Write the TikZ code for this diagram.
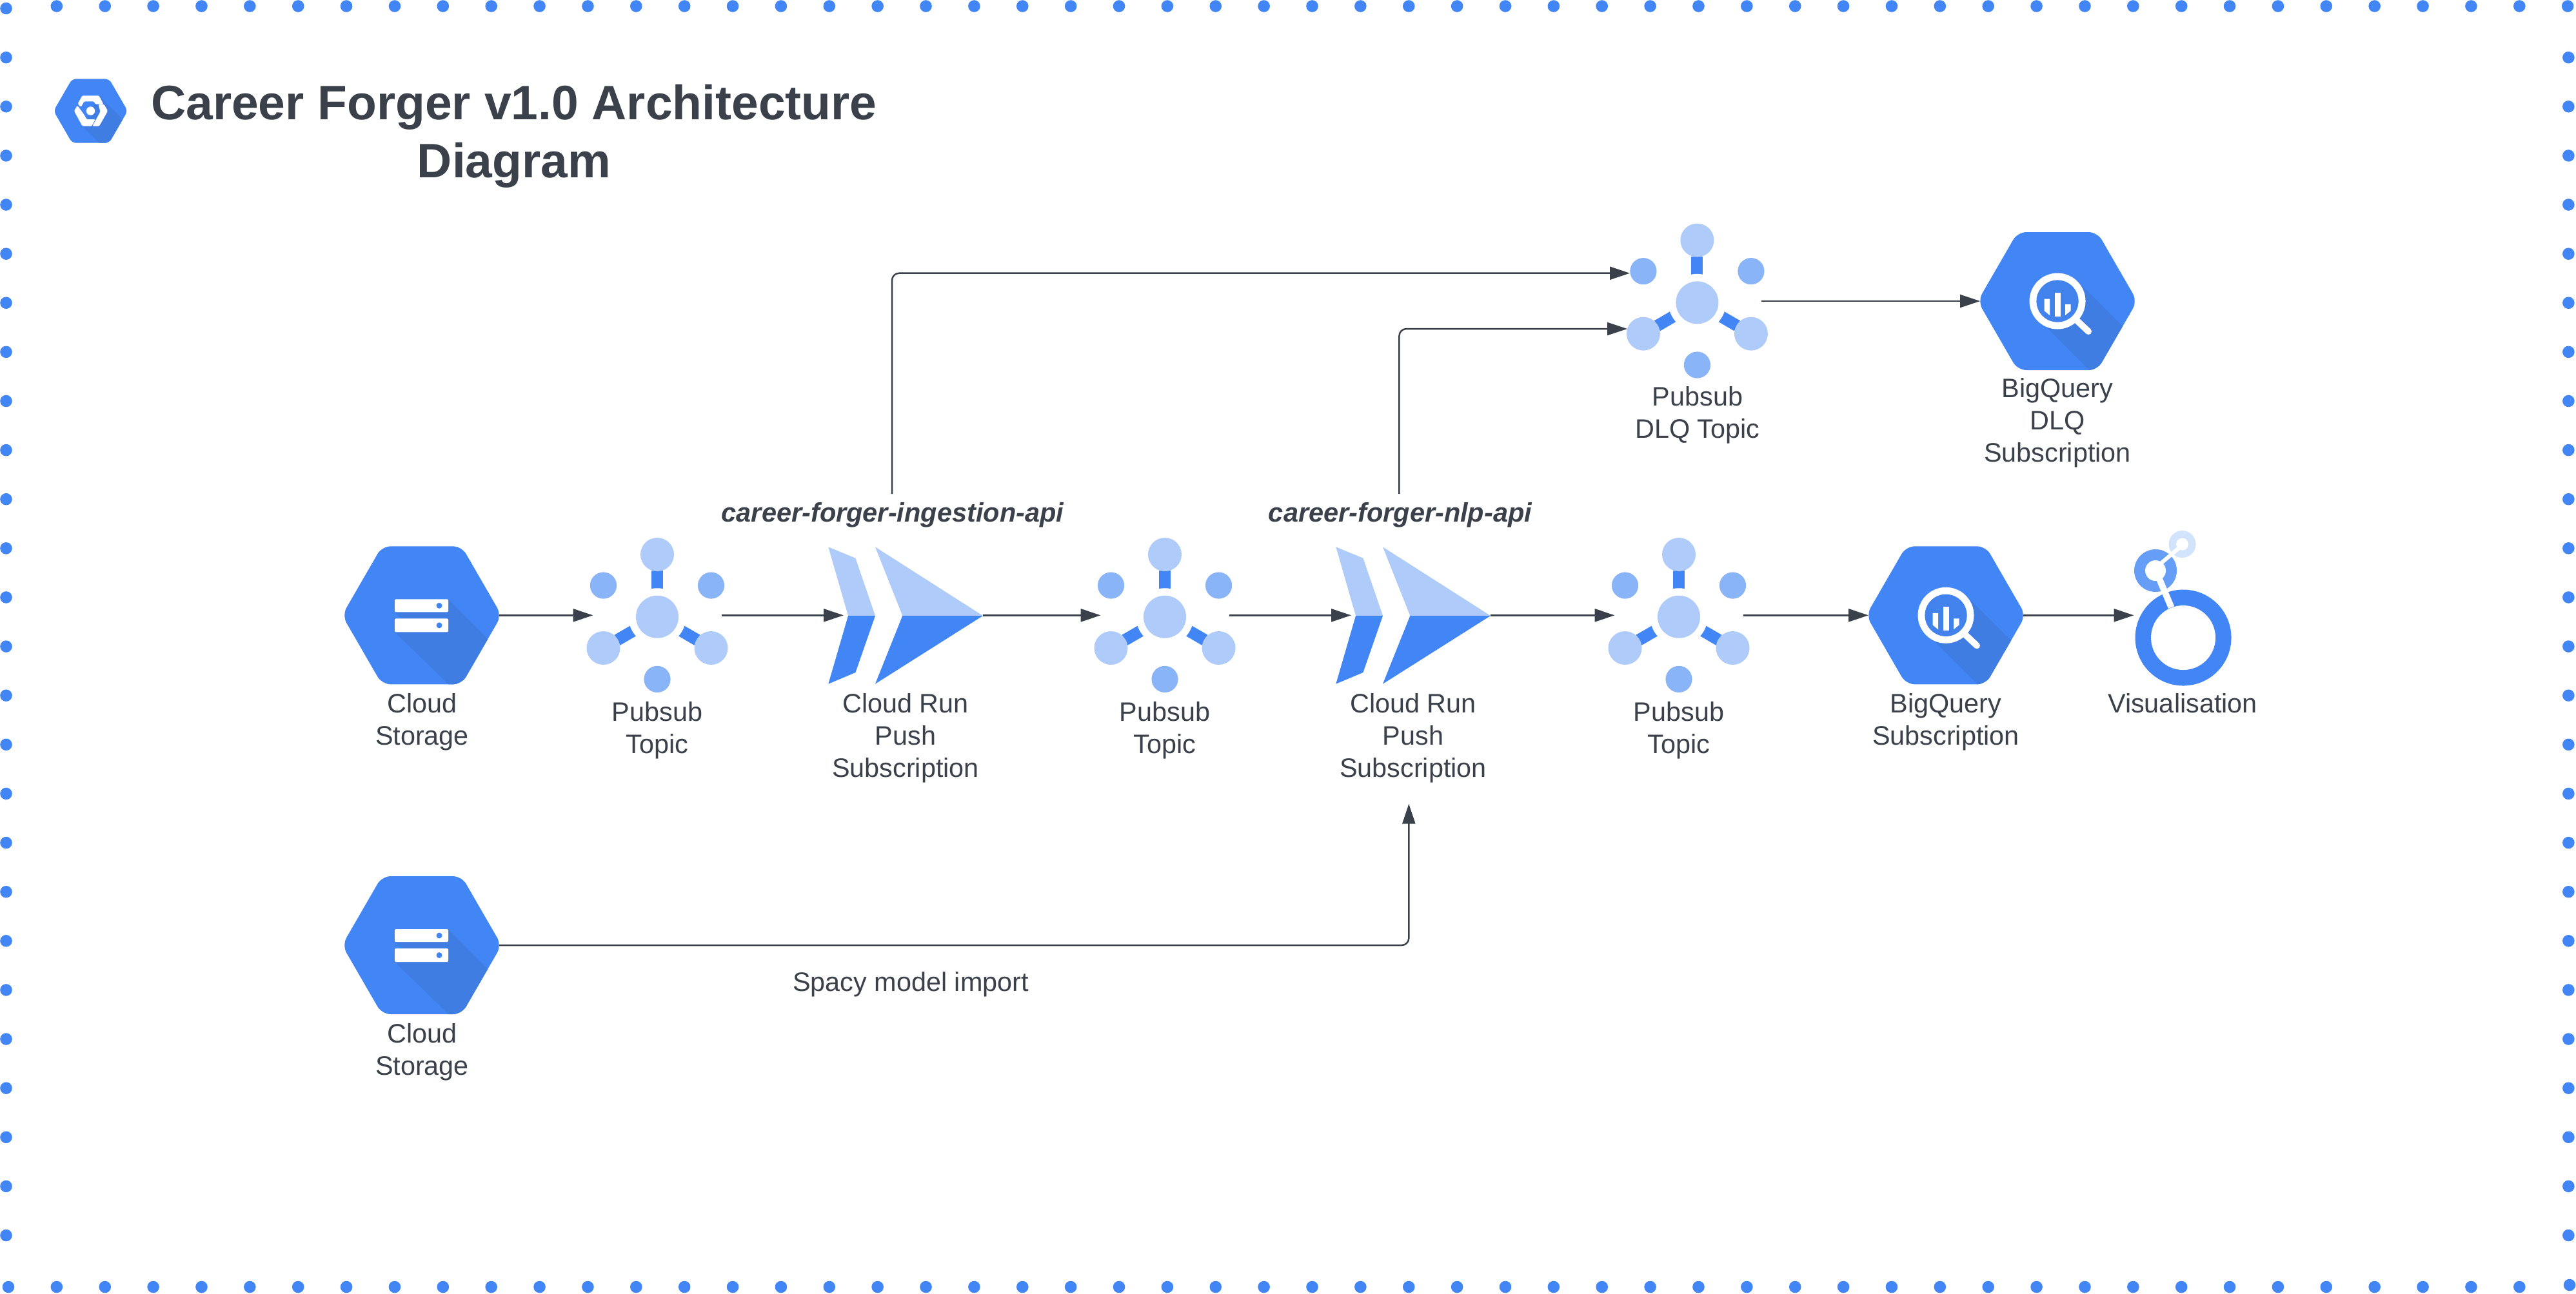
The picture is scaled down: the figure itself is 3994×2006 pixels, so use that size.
\documentclass[tikz,border=0pt]{standalone}
\usepackage{fontspec}
\setmainfont{Liberation Sans}
\usetikzlibrary{arrows.meta}
\definecolor{gblue}{HTML}{4285F4}
\definecolor{gshade}{HTML}{3F7DE3}
\definecolor{glight}{HTML}{AECBFA}
\definecolor{gmid}{HTML}{8AB4F8}
\definecolor{ink}{HTML}{3A414A}
\definecolor{lookmid}{HTML}{669DF6}
\definecolor{looklight}{HTML}{D2E3FC}
\tikzset{
  x=0.2pt,y=-0.2pt,
  anchorbox/.style={rectangle,inner sep=0pt,outer sep=0pt,draw=none,fill=none},
  hexbox/.style={anchorbox,minimum width=48pt,minimum height=42.8pt},
  pubbox/.style={anchorbox,minimum width=39.8pt,minimum height=42.8pt},
  runbox/.style={anchorbox,minimum width=43.2pt,minimum height=42.8pt},
  caption/.style={anchor=north,inner sep=0pt,outer sep=0pt,align=center,text=ink,
    font=\fontsize{8.28}{10}\selectfont},
  apilabel/.style={anchor=north,inner sep=0pt,outer sep=0pt,text=ink,
    font=\fontsize{8.3}{10}\selectfont\bfseries\itshape},
  flow/.style={draw=ink,line width=0.5pt,rounded corners=2.2pt,
    -{Triangle[length=6.2pt,width=4pt]}},
  hexfill/.style={fill=gblue,rounded corners=2.7pt},
  pics/hexstorage/.style={code={
    \fill[hexfill] (-123.6,0)--(-61.8,-107)--(61.8,-107)--(123.6,0)--(61.8,107)--(-61.8,107)--cycle;
    \begin{scope}
      \clip[rounded corners=2.7pt] (-123.6,0)--(-61.8,-107)--(61.8,-107)--(123.6,0)--(61.8,107)--(-61.8,107)--cycle;
      \fill[gshade] (41,-25)--(170,104)--(170,132)--(67,132)--(-42,26)--(-42,5)--(-32,5)--(-42,-5)--cycle;
    \end{scope}
    \fill[white,rounded corners=0.3pt] (-42,-25) rectangle (41,-5);
    \fill[white,rounded corners=0.3pt] (-42,5) rectangle (41,26);
    \fill[gblue] (27,-15) circle[radius=4.5];
    \fill[gblue] (27,15.5) circle[radius=4.5];
  }},
  pics/hexquery/.style={code={
    \fill[hexfill] (-123.6,0)--(-61.8,-107)--(61.8,-107)--(123.6,0)--(61.8,107)--(-61.8,107)--cycle;
    \begin{scope}
      \clip[rounded corners=2.7pt] (-123.6,0)--(-61.8,-107)--(61.8,-107)--(123.6,0)--(61.8,107)--(-61.8,107)--cycle;
      \fill[gshade] (32,-30)--(170,108)--(170,132)--(74,132)--(-24,34)--cycle;
    \end{scope}
    \draw[white,line width=2pt,line cap=round] (31,31)--(48,47);
    \fill[white] (0,0) circle[radius=43.5];
    \fill[gshade!40!gblue] (0,0) circle[radius=32.6];
    \fill[white] (-4.5,-13.5) rectangle (4.5,23.5);
    \fill[white] (-20.5,-3.5)--(-12,-3.5)--(-12,22)--(-20.5,15)--cycle;
    \fill[white] (12,5)--(20.5,5)--(20.5,15)--(12,22)--cycle;
  }},
  pics/hexbrand/.style={code={
    \fill[gblue,rounded corners=1.3pt] (-57.4,0)--(-28.7,-49.7)--(28.7,-49.7)--(57.4,0)--(28.7,49.7)--(-28.7,49.7)--cycle;
    \begin{scope}
      \clip[rounded corners=1.3pt] (-57.4,0)--(-28.7,-49.7)--(28.7,-49.7)--(57.4,0)--(28.7,49.7)--(-28.7,49.7)--cycle;
      \fill[gshade] (13,-23.7)--(80,43)--(80,60)--(24,60)--(-13,23.7)--cycle;
    \end{scope}
    \fill[white,rounded corners=0.3pt] (-20,-11)--(-13,-23.7)--(13,-23.7)--(20,-10.3)--(7.7,-10.3)--(5,-14.7)--(-10,-14.7)--(-15,-6)--cycle;
    \fill[white,rounded corners=0.3pt] (12,-10.3)--(20.7,-10.3)--(26.7,0)--(13.3,23.7)--(2.7,23.7)--(15,1.3)--cycle;
    \fill[white,rounded corners=0.3pt] (-25.7,0)--(-20.5,-8.5)--(-10,6)--(-6,13)--(7.3,13)--(1.7,23.7)--(-12.7,23.7)--cycle;
    \fill[white] (0,0) circle[radius=6.7];
  }},
  pics/pubsubicon/.style={code={
    \fill[gblue] (-9,-69.3) rectangle (9,-30);
    \fill[gblue] (-32.75,10.9)--(-23.4,26.5)--(-57.4,46.4)--(-66.5,30.4)--cycle;
    \fill[gblue] (32.75,10.9)--(23.4,26.5)--(57.4,46.4)--(66.5,30.4)--cycle;
    \fill[white] (0,2.4) circle[radius=44.5];
    \fill[glight] (0,2.4) circle[radius=33];
    \fill[glight] (0,-94.3) circle[radius=26];
    \fill[glight] (-83.5,50.7) circle[radius=26];
    \fill[glight] (83.5,50.7) circle[radius=26];
    \fill[gmid] (-83.5,-46.3) circle[radius=20.6];
    \fill[gmid] (83.5,-46.3) circle[radius=20.6];
    \fill[gmid] (0,99.1) circle[radius=20.6];
  }},
  pics/runicon/.style={code={
    \fill[glight] (-131.7,-106)--(-89.6,-88.6)--(-59,0.7)--(-101,0.7)--cycle;
    \fill[gblue] (-101,0.7)--(-59,0.7)--(-89.6,88.7)--(-131.7,106.4)--cycle;
    \fill[glight] (-59,-106)--(108,0.7)--(-16.7,0.7)--cycle;
    \fill[gblue] (-16.7,0.7)--(108,0.7)--(-59,106.4)--cycle;
  }},
}
\begin{document}
\begin{tikzpicture}
\useasboundingbox (0,0) rectangle (3994,2006);
\fill[white] (0,0) rectangle (3994,2006);

% dotted frame
\foreach \k in {1,...,53} {\fill[gblue] ({13+\k*74.87},9.5) circle[radius=9.3];}
\foreach \k in {0,...,52} {\fill[gblue] ({13+\k*74.87},1996) circle[radius=9.3];}
\foreach \k in {0,...,25} {\fill[gblue] (9.5,{13+\k*76.12}) circle[radius=9.3];}
\foreach \k in {1,...,25} {\fill[gblue] (3982.3,{13+\k*76.12}) circle[radius=9.3];}
\fill[gblue] (3984,1993) circle[radius=9.3];

% title
\pic at (140.5,172) {hexbrand};
\node[inner sep=0pt,outer sep=0pt,anchor=north,align=center,text=ink,
  font=\fontsize{15}{18}\selectfont\bfseries] (title) at (797,129) {\rule{0pt}{11.3pt}Career Forger v1.0 Architecture\\Diagram};

% icons
\pic at (654,954.3) {hexstorage};
\pic at (654,1466) {hexstorage};
\pic at (1019,954.3) {pubsubicon};
\pic at (1806,954.3) {pubsubicon};
\pic at (2603,954.3) {pubsubicon};
\pic at (2631.4,466.9) {pubsubicon};
\pic at (1416,954.3) {runicon};
\pic at (2203,954.3) {runicon};
\pic at (3017,954.3) {hexquery};
\pic at (3190,467) {hexquery};

% looker icon
\fill[looklight] (3383.5,844) circle[radius=21];
\fill[white] (3383.5,844) circle[radius=9.5];
\fill[lookmid] (3342,885) circle[radius=33];
\fill[white] (3342,885) circle[radius=16];
\fill[gblue] (3385,989) circle[radius=74.5];
\fill[white] (3385,989) circle[radius=50];
\draw[white,line width=1.2pt] (3350,874)--(3383,846);
\draw[white,line width=2pt] (3345,891)--(3366.5,942);

% anchor nodes for connectors
\node[hexbox] (storageA) at (654,954.3) {};
\node[hexbox] (storageB) at (654,1466) {};
\node[pubbox] (topicA) at (1019,954.3) {};
\node[pubbox] (topicB) at (1806,954.3) {};
\node[pubbox] (topicC) at (2603,954.3) {};
\node[pubbox] (topicD) at (2631,467) {};
\node[runbox] (runA) at (1416,954.3) {};
\node[runbox] (runB) at (2203,954.3) {};
\node[hexbox] (queryA) at (3017,954.3) {};
\node[hexbox] (queryB) at (3190,467) {};
\node[anchorbox,minimum width=30.6pt,minimum height=30pt] (viz) at (3385,954.3) {};

% captions (first baseline = north + 40 units)
\node[caption] (capStorageA) at (654.5,1065) {\rule{0pt}{8pt}Cloud\\Storage};
\node[caption] (capStorageB) at (654.5,1577) {\rule{0pt}{8pt}Cloud\\Storage};
\node[caption] (capTopicA) at (1019,1078.5) {\rule{0pt}{8pt}Pubsub\\Topic};
\node[caption] (capTopicB) at (1806,1078.5) {\rule{0pt}{8pt}Pubsub\\Topic};
\node[caption] (capTopicC) at (2603,1078.5) {\rule{0pt}{8pt}Pubsub\\Topic};
\node[caption] (capTopicD) at (2632,589.3) {\rule{0pt}{8pt}Pubsub\\DLQ Topic};
\node[caption] (capRunA) at (1404,1065) {\rule{0pt}{8pt}Cloud Run\\Push\\Subscription};
\node[caption] (capRunB) at (2191,1065) {\rule{0pt}{8pt}Cloud Run\\Push\\Subscription};
\node[caption] (capQueryA) at (3017,1065) {\rule{0pt}{8pt}BigQuery\\Subscription};
\node[caption] (capQueryB) at (3190,576) {\rule{0pt}{8pt}BigQuery\\DLQ\\Subscription};
\node[caption] (capViz) at (3384,1065) {\rule{0pt}{8pt}Visualisation};
\node[caption] (spacy) at (1412,1497) {\rule{0pt}{8pt}Spacy model import};
\node[apilabel] (ingest) at (1384,767) {\rule{0pt}{8.4pt}career-forger-ingestion-api};
\node[apilabel] (nlp) at (2171,767) {\rule{0pt}{8.4pt}career-forger-nlp-api};

% free connector ends
\coordinate (dlqInA) at (2527,423.7);
\coordinate (dlqInB) at (2523,510);
\coordinate (runBIn) at (2184.3,1246.7);

% connectors
\draw[flow] (ingest.north) ++(-1,-1) |- (dlqInA);
\draw[flow] (nlp.north) ++(-1.6,-1) |- (dlqInB);
\draw[flow] (storageA.east) -- (topicA.west);
\draw[flow] (topicA.east) -- (runA.west);
\draw[flow] (runA.east) -- (topicB.west);
\draw[flow] (topicB.east) -- (runB.west);
\draw[flow] (runB.east) -- (topicC.west);
\draw[flow] (topicC.east) -- (queryA.west);
\draw[flow] (queryA.east) -- (viz.west);
\draw[flow] (topicD.east) -- (queryB.west);
\draw[flow] (storageB.east) -| (runBIn);
\end{tikzpicture}
\end{document}
